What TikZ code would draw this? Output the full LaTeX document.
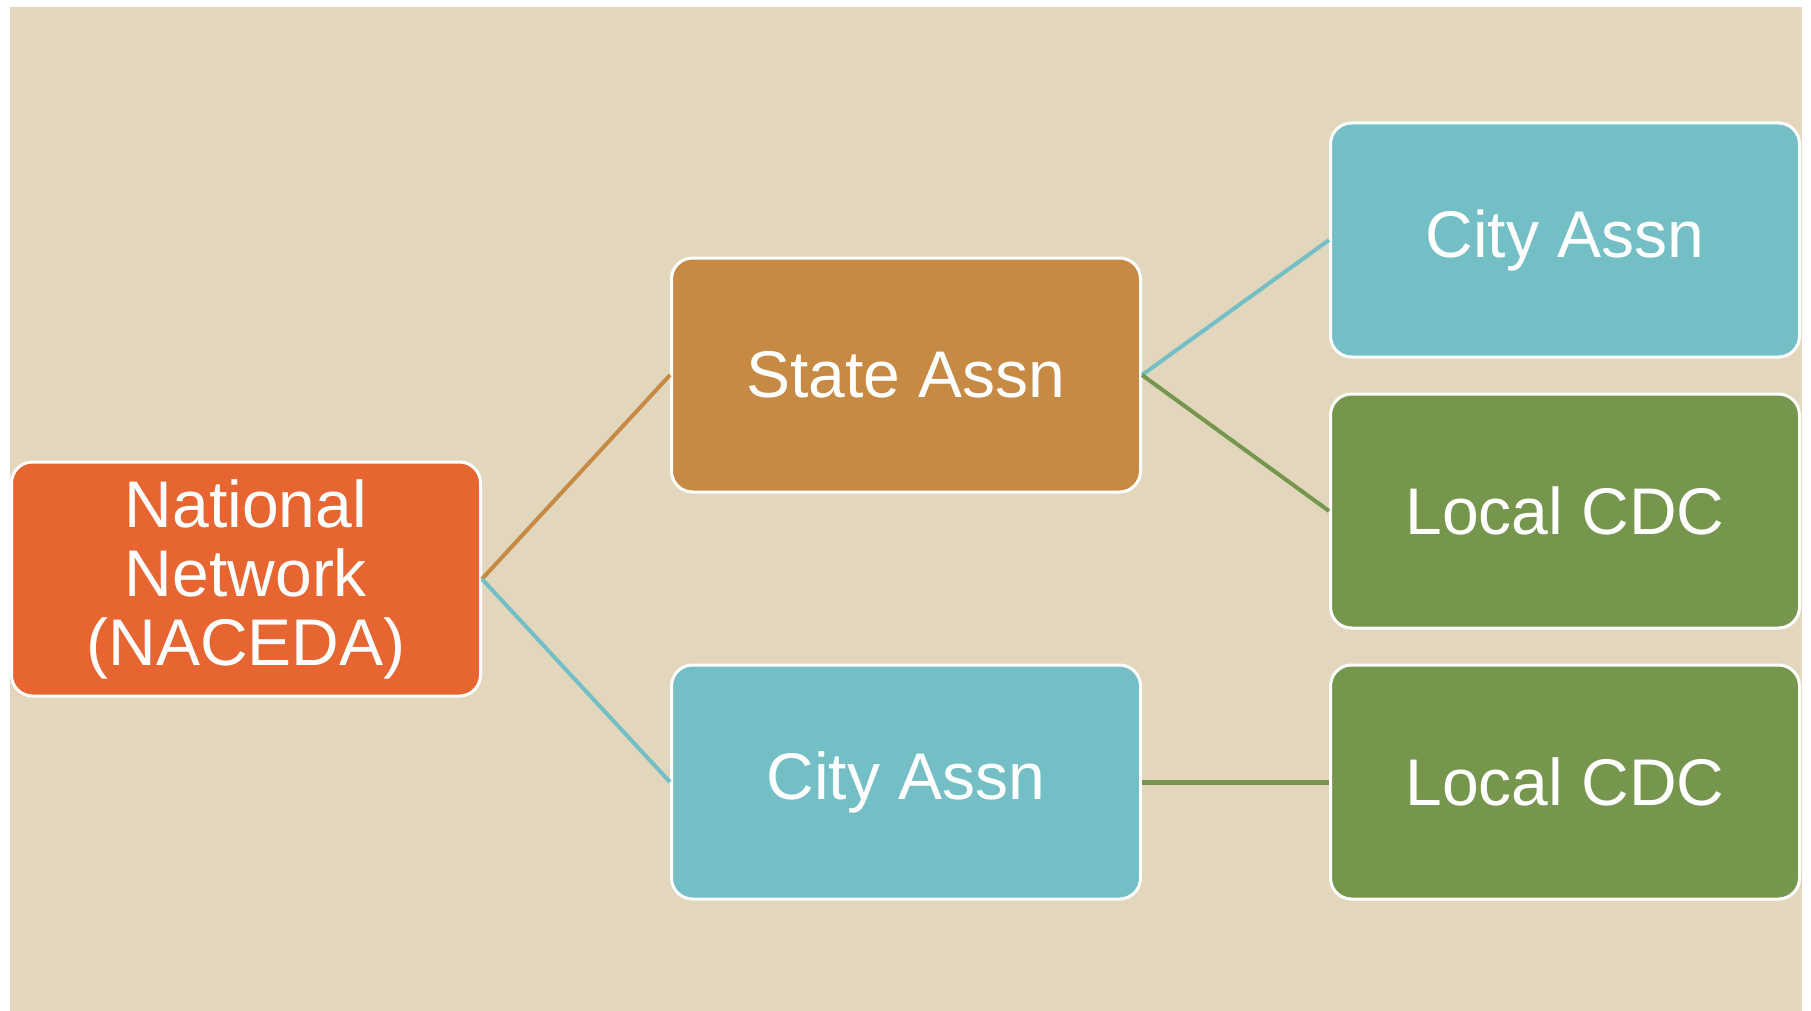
\documentclass[tikz,border=0pt]{standalone}
\usepackage{fontspec}
\setmainfont{Liberation Sans}
\definecolor{sandbg}{HTML}{E2D7BD}
\definecolor{rustfill}{HTML}{E66530}
\definecolor{ochrefill}{HTML}{C68A45}
\definecolor{tealfill}{HTML}{74BFC5}
\definecolor{olivefill}{HTML}{76964D}
\tikzset{
  orgbox/.style={draw=white, line width=3pt, rounded corners=21pt,
    minimum width=469pt, minimum height=234pt, inner sep=0pt,
    text=white, align=center, font=\fontsize{66}{69}\selectfont},
  link/.style={line width=4pt},
}
\begin{document}
\begin{tikzpicture}[x=1pt,y=-1pt]
  \useasboundingbox (0,0) rectangle (1811,1011);
  \fill[white] (0,0) rectangle (1811,1011);
  \fill[sandbg] (10,7) rectangle (1802,1011);
%%
  % Node: National
  \node[orgbox, fill=rustfill] (national) at (246,579) {National\\Network\\(NACEDA)};
  % Node: State
  \node[orgbox, fill=ochrefill] (state) at (906,375) {State Assn};
  % Node: City (middle column)
  \node[orgbox, fill=tealfill] (citymid) at (906,782) {City Assn};
  % Node: City (right column)
  \node[orgbox, fill=tealfill] (cityright) at (1565,240) {City Assn};
  % Node: Local (upper)
  \node[orgbox, fill=olivefill] (localup) at (1565,511) {Local CDC};
  % Node: Local (lower)
  \node[orgbox, fill=olivefill] (locallow) at (1565,782) {Local CDC};
%%
  % Edge: National -> State
  \draw[link, ochrefill] (national.east) -- (state.west);
  % Edge: National -> City
  \draw[link, tealfill] (national.east) -- (citymid.west);
  % Edge: State -> City
  \draw[link, tealfill] (state.east) -- (cityright.west);
  % Edge: State -> Local
  \draw[link, olivefill] (state.east) -- (localup.west);
  % Edge: City -> Local
  \draw[link, olivefill, line width=5pt] (citymid.east) -- (locallow.west);
%
\end{tikzpicture}
\end{document}
